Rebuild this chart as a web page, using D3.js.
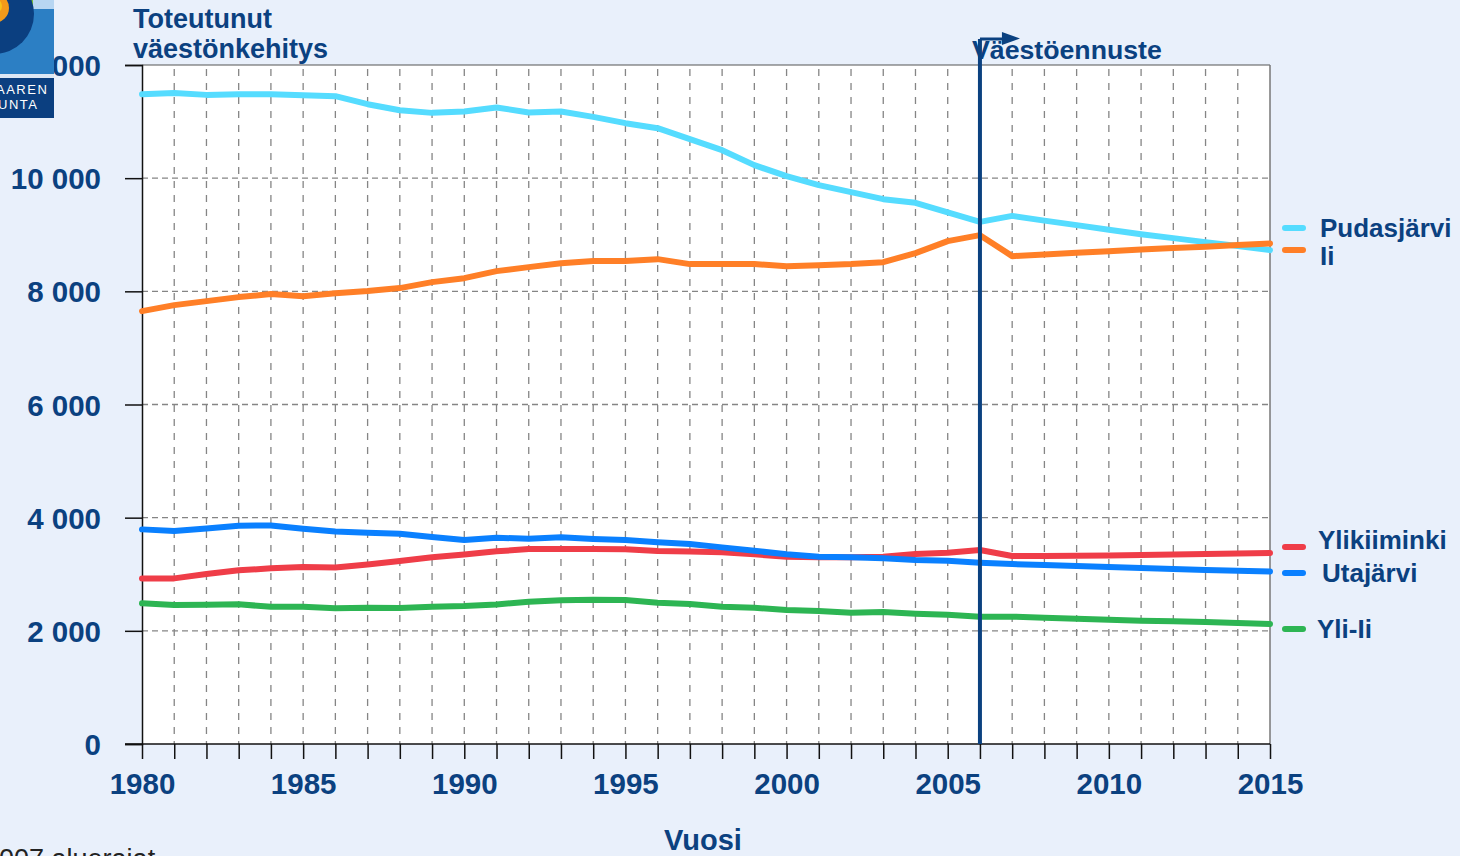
<!DOCTYPE html>
<html><head><meta charset="utf-8">
<script src="https://cdn.jsdelivr.net/npm/d3@7"></script>
<style>
html,body{margin:0;padding:0;background:#e9f0fb;overflow:hidden}
svg{display:block}
</style></head>
<body>
<script>
const years = d3.range(1980, 2016);
const pudasjarvi = [11484,11507,11472,11484,11484,11466,11449,11307,11201,11154,11178,11249,11161,11178,11083,10972,10883,10689,10495,10230,10035,9876,9753,9629,9564,9394,9228,9334,9250,9170,9090,9010,8940,8870,8800,8728];
const ii = [7650,7756,7827,7898,7951,7915,7968,8004,8057,8163,8233,8357,8428,8498,8534,8534,8569,8481,8481,8481,8445,8463,8481,8516,8675,8887,8993,8622,8650,8680,8710,8740,8765,8790,8820,8846];
const ylikiiminki = [2927,2927,3003,3069,3104,3127,3121,3174,3233,3300,3350,3405,3445,3445,3445,3440,3410,3404,3387,3352,3309,3299,3299,3309,3357,3380,3428,3322,3322,3325,3330,3339,3348,3357,3366,3375];
const utajarvi = [3793,3763,3810,3857,3863,3804,3757,3733,3716,3660,3604,3645,3627,3652,3622,3604,3564,3534,3475,3415,3352,3309,3299,3281,3251,3238,3203,3180,3163,3145,3127,3110,3092,3074,3060,3050];
const yliIi = [2486,2456,2461,2468,2426,2426,2397,2409,2403,2426,2438,2465,2514,2539,2550,2544,2497,2473,2426,2409,2367,2350,2320,2332,2303,2285,2250,2250,2232,2215,2198,2180,2168,2155,2140,2122];
const yTicks = [0,2000,4000,6000,8000,10000,12000];
const xTickLabels = [1980,1985,1990,1995,2000,2005,2010,2015];
const forecastStart = 2006;
const seriesNames = ["Pudasjärvi","Ii","Ylikiiminki","Utajärvi","Yli-Ii"];
const seriesColors = ["#55dcff","#ff7f27","#ef3d48","#0a80ff","#2db553"];
const seriesValues = [pudasjarvi, ii, ylikiiminki, utajarvi, yliIi];
const legendY = [228, 250, 547, 573, 629];
const legendTextDx = [0, 0, -2, 2, -3];

const W = 1460, H = 856;
const navy = "#0b4180";
const font = "'Liberation Sans', Arial, sans-serif";
const svg = d3.select("body").append("svg").attr("width", W).attr("height", H);
svg.append("rect").attr("width", W).attr("height", H).attr("fill", "#e9f0fb");

const x = d3.scaleLinear().domain([1980, 2015]).range([142, 1270]);
const y = d3.scaleLinear().domain([0, 12000]).range([744, 65]);

// plot area
svg.append("rect").attr("x", x(1980)).attr("y", y(12000)).attr("width", x(2015)-x(1980)).attr("height", y(0)-y(12000)).attr("fill", "#fff");

// grid
const g = svg.append("g");
g.selectAll(".vg").data(years.filter(d => d > 1980 && d < 2015)).join("line")
  .attr("x1", d => x(d)).attr("x2", d => x(d)).attr("y1", y(12000)).attr("y2", y(0))
  .attr("stroke", "#858585").attr("stroke-width", 1.3).attr("stroke-dasharray", "7,7").attr("stroke-dashoffset", -4);
g.selectAll(".hg").data(yTicks.filter(d => d > 0 && d < 12000)).join("line")
  .attr("x1", x(1980)).attr("x2", x(2015)).attr("y1", d => y(d)).attr("y2", d => y(d))
  .attr("stroke", "#858585").attr("stroke-width", 1.3).attr("stroke-dasharray", "6,4");
// top and right border
g.append("line").attr("x1", x(1980)).attr("x2", x(2015)).attr("y1", y(12000)).attr("y2", y(12000)).attr("stroke", "#555").attr("stroke-width", 1.2);
g.append("line").attr("x1", x(2015)).attr("x2", x(2015)).attr("y1", y(12000)).attr("y2", y(0)).attr("stroke", "#777").attr("stroke-width", 1.5);

// axes
const yAxis = d3.axisLeft(y).tickValues(yTicks).tickSize(17).tickFormat(d => d3.format(",")(d).replace(/,/g, " "));
const ya = svg.append("g").attr("transform", `translate(${x(1980)},0)`).call(yAxis);
ya.select(".domain").attr("stroke", "#111").attr("stroke-width", 1.5);
ya.selectAll(".tick line").attr("stroke", "#111").attr("stroke-width", 1.5);
ya.selectAll(".tick text").attr("x", -41).attr("dy", "0.36em").attr("fill", navy)
  .attr("font-family", font).attr("font-weight", "bold").attr("font-size", 29.5);

const xAxis = d3.axisBottom(x).tickValues(years).tickSize(15).tickFormat(d => xTickLabels.includes(d) ? d : "");
const xa = svg.append("g").attr("transform", `translate(0,${y(0)})`).call(xAxis);
xa.select(".domain").remove();
xa.append("line").attr("x1", 125).attr("x2", x(2015)).attr("y1", 0).attr("y2", 0).attr("stroke", "#111").attr("stroke-width", 1.5);
xa.selectAll(".tick line").attr("stroke", "#111").attr("stroke-width", 1.5);
xa.selectAll(".tick text").attr("y", 50).attr("dy", 0).attr("fill", navy)
  .attr("font-family", font).attr("font-weight", "bold").attr("font-size", 29.5);

// lines
const line = d3.line().x((d, i) => x(years[i])).y(d => y(d));
svg.append("g").selectAll("path").data(seriesValues).join("path")
  .attr("d", d => line(d)).attr("fill", "none")
  .attr("stroke", (d, i) => seriesColors[i]).attr("stroke-width", 6)
  .attr("stroke-linecap", "round").attr("stroke-linejoin", "round");

// forecast divider
const fx = x(forecastStart);
svg.append("line").attr("x1", fx).attr("x2", fx).attr("y1", 39).attr("y2", y(0)).attr("stroke", navy).attr("stroke-width", 4);
svg.append("line").attr("x1", fx).attr("x2", fx + 30).attr("y1", 39).attr("y2", 39).attr("stroke", navy).attr("stroke-width", 3);
svg.append("path").attr("d", `M${fx+22},32 L${fx+40},38.5 L${fx+22},45 Z`).attr("fill", navy);

// titles
const t = svg.append("g").attr("fill", navy).attr("font-family", font).attr("font-weight", "bold").attr("font-size", 27);
t.append("text").attr("x", 133).attr("y", 28).text("Toteutunut");
t.append("text").attr("x", 133).attr("y", 58).text("väestönkehitys");
t.append("text").attr("x", 972).attr("y", 59).attr("font-size", 26.7).text("Väestöennuste");
svg.append("text").attr("x", 703).attr("y", 850).attr("text-anchor", "middle").attr("fill", navy)
  .attr("font-family", font).attr("font-weight", "bold").attr("font-size", 29).text("Vuosi");
svg.append("text").attr("x", -16).attr("y", 868).attr("fill", "#222")
  .attr("font-family", font).attr("font-size", 27).text("2007 aluerajat");

// legend
const lg = svg.append("g");
seriesNames.forEach((n, i) => {
  lg.append("line").attr("x1", 1285).attr("x2", 1303).attr("y1", legendY[i]).attr("y2", legendY[i])
    .attr("stroke", seriesColors[i]).attr("stroke-width", 6).attr("stroke-linecap", "round");
  lg.append("text").attr("x", 1320 + legendTextDx[i]).attr("y", legendY[i] + (i === 1 ? 15 : (i === 2 ? 2 : 9)))
    .attr("fill", navy).attr("font-family", font).attr("font-weight", "bold").attr("font-size", 26).text(n);
});

// logo (partially visible, top-left)
const logo = svg.append("g");
logo.append("rect").attr("x", 0).attr("y", 0).attr("width", 54).attr("height", 118).attr("fill", "#dde8f5");
logo.append("rect").attr("x", 0).attr("y", 0).attr("width", 54).attr("height", 74).attr("fill", "#2c7fc4");
logo.append("rect").attr("x", 33).attr("y", 0).attr("width", 21).attr("height", 9).attr("fill", "#b7d6f2");
logo.append("path").attr("d", "M10,0 L33,0 L33,9 L22,9 Q18,3 10,0 Z").attr("fill", "#7bbf3a");
logo.append("circle").attr("cx", -6).attr("cy", 14).attr("r", 40).attr("fill", "#0b3f80");
logo.append("circle").attr("cx", -6).attr("cy", 8).attr("r", 15).attr("fill", "#f29a1a");
logo.append("circle").attr("cx", -6).attr("cy", 6).attr("r", 8).attr("fill", "#f6c21a");
logo.append("rect").attr("x", 0).attr("y", 78).attr("width", 54).attr("height", 40).attr("fill", "#0b3f80");
logo.append("text").attr("x", -4).attr("y", 94).attr("fill", "#fff").attr("font-family", font).attr("font-size", 13).attr("letter-spacing", 1.5).text("AAREN");
logo.append("text").attr("x", -2).attr("y", 109).attr("fill", "#fff").attr("font-family", font).attr("font-size", 13).attr("letter-spacing", 1.5).text("UNTA");
</script>
</body></html>
